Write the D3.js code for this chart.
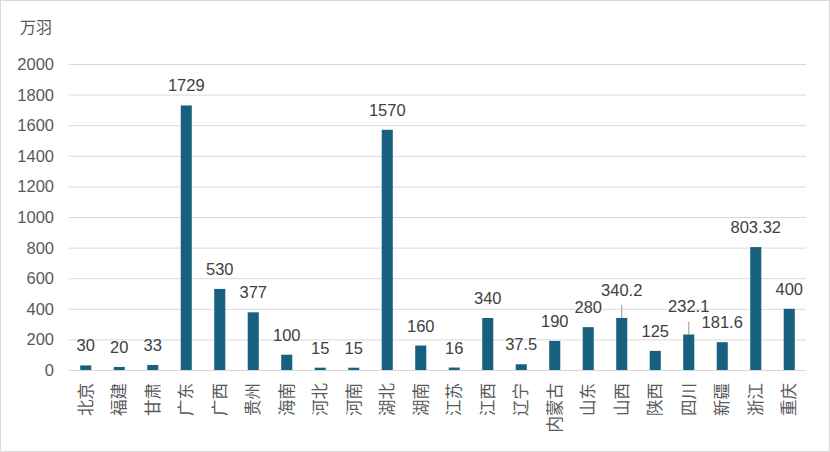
<!DOCTYPE html>
<html lang="zh">
    <head>
        <meta charset="utf-8">
        <title>万羽 bar chart</title>
        <script type="text/javascript" src="https://d3js.org/d3.v7.min.js"></script>
        <style type="text/css">
          body { margin: 0; background: #fff; }
          text { font-family: "Liberation Sans", "Noto Sans CJK SC", sans-serif; fill: #595959; }
        </style>
    </head>
    <body>
        <svg width="830" height="452"></svg>
        <script type="text/javascript">
            // data
            const provinces = ["北京","福建","甘肃","广东","广西","贵州","海南","河北","河南","湖北","湖南",
                               "江苏","江西","辽宁","内蒙古","山东","山西","陕西","四川","新疆","浙江","重庆"];
            const values = [30, 20, 33, 1729, 530, 377, 100, 15, 15, 1570, 160,
                            16, 340, 37.5, 190, 280, 340.2, 125, 232.1, 181.6, 803.32, 400];
            const yTicks = [0, 200, 400, 600, 800, 1000, 1200, 1400, 1600, 1800, 2000];
            const unitLabel = "万羽";
            // labels that were pulled up with a leader line
            const leaderLabels = ["山西", "四川"];

            const svg = d3.select("svg");
            const w = 830, h = 452;
            const margin = {top: 64, right: 24, bottom: 82, left: 69};

            const data = provinces.map((p, i) => ({name: p, value: values[i]}));

            // frame
            svg.append("rect")
               .attr("x", 0.5).attr("y", 0.5)
               .attr("width", w - 1).attr("height", h - 1)
               .attr("fill", "#fff")
               .attr("stroke", "#d9d9d9");

            const x = d3.scaleBand()
                        .domain(provinces)
                        .range([margin.left, w - margin.right])
                        .paddingInner(0.67)
                        .paddingOuter(0.335);

            const y = d3.scaleLinear()
                        .domain([0, 2000])
                        .range([h - margin.bottom, margin.top]);

            //gridlines
            svg.selectAll("line.grid")
               .data(yTicks)
               .enter()
               .append("line")
               .attr("class", "grid")
               .attr("x1", margin.left)
               .attr("x2", w - margin.right)
               .attr("y1", d => y(d) + 0.5)
               .attr("y2", d => y(d) + 0.5)
               .style("stroke", "#d9d9d9")
               .style("stroke-width", 1);

            // y tick labels
            svg.selectAll("text.ytick")
               .data(yTicks)
               .enter()
               .append("text")
               .attr("class", "ytick")
               .attr("x", 54)
               .attr("y", d => y(d))
               .attr("dy", "0.36em")
               .attr("text-anchor", "end")
               .style("font-size", "16.5px")
               .text(d => d);

            svg.append("text")
               .attr("x", 20)
               .attr("y", 33)
               .style("font-size", "16px")
               .text(unitLabel);

            //bars
            svg.selectAll("rect.bar")
               .data(data)
               .enter()
               .append("rect")
               .attr("class", "bar")
               .attr("x", d => x(d.name))
               .attr("width", x.bandwidth())
               .attr("y", d => y(d.value))
               .attr("height", d => y(0) - y(d.value))
               .style("fill", "#17607f");

            // leader lines
            svg.selectAll("line.leader")
               .data(data.filter(d => leaderLabels.includes(d.name)))
               .enter()
               .append("line")
               .attr("class", "leader")
               .attr("x1", d => x(d.name) + x.bandwidth() / 2)
               .attr("x2", d => x(d.name) + x.bandwidth() / 2)
               .attr("y1", d => y(d.value) - 13)
               .attr("y2", d => y(d.value))
               .style("stroke", "#a6a6a6")
               .style("stroke-width", 1.2);

            // value labels
            svg.selectAll("text.val")
               .data(data)
               .enter()
               .append("text")
               .attr("class", "val")
               .attr("x", d => x(d.name) + x.bandwidth() / 2)
               .attr("y", d => y(d.value) - (leaderLabels.includes(d.name) ? 22 : 14))
               .attr("text-anchor", "middle")
               .style("font-size", "16.5px")
               .style("fill", "#404040")
               .text(d => d.value);

            // x labels, rotated
            svg.selectAll("text.xlab")
               .data(provinces)
               .enter()
               .append("text")
               .attr("class", "xlab")
               .attr("transform", d => `translate(${x(d) + x.bandwidth() / 2},383) rotate(-90)`)
               .attr("dy", "0.36em")
               .attr("text-anchor", "end")
               .style("font-size", "16.5px")
               .text(d => d);
        </script>
    </body>
</html>
